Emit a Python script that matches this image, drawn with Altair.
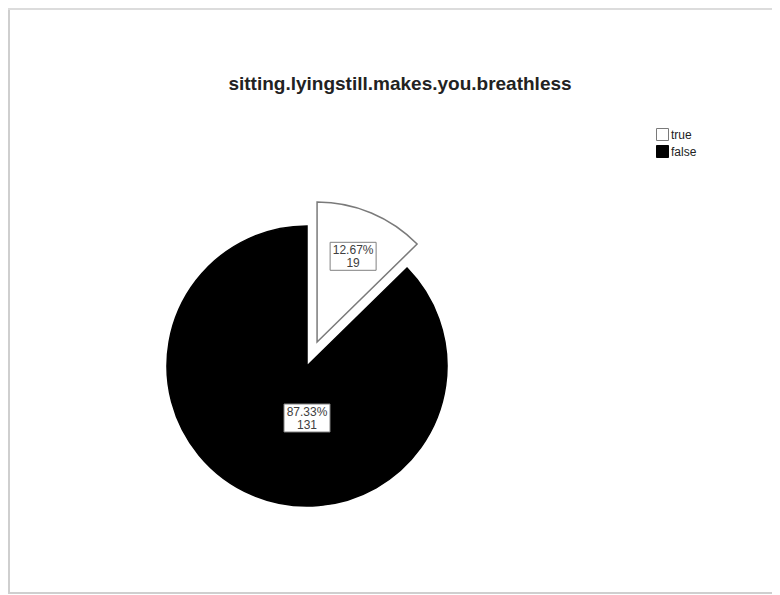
import altair as alt
import pandas as pd

# ---- data ----
CATEGORIES = ["true", "false"]
COUNTS = [19, 131]
COLORS = ["white", "black"]
TITLE = "sitting.lyingstill.makes.you.breathless"

# ---- layout / style constants ----
W, H = 764, 586
CX, CY = 299, 358          # pie centre (chart coords)
R = 140                    # pie radius
EXPLODE = 26               # explode distance of the 'true' slice
LABEL_R_TRUE = 93
LABEL_R_FALSE = 52
BOX_W, BOX_H = 46, 28
FONT = "Liberation Sans"

df = pd.DataFrame({"category": CATEGORIES, "count": COUNTS,
                   "order": list(range(len(CATEGORIES)))})

base = (
    alt.Chart(df)
    .transform_joinaggregate(total="sum(count)")
    .transform_window(cum="sum(count)", sort=[alt.SortField("order")], frame=[None, 0])
    .transform_calculate(
        t0="2*PI*(datum.cum - datum.count)/datum.total",
        t1="2*PI*datum.cum/datum.total",
    )
    .transform_calculate(
        mid="(datum.t0 + datum.t1)/2",
        ex=f"datum.category == 'true' ? {EXPLODE} : 0",
        lr=f"datum.category == 'true' ? {LABEL_R_TRUE} : {LABEL_R_FALSE}",
        lab="format(datum.count/datum.total, '.2%') + '\\n' + datum.count",
    )
    .transform_calculate(
        la="datum.category == 'true' ? datum.mid : PI",
        px=f"{CX} + datum.ex*sin(datum.mid)",
        py=f"{CY} - datum.ex*cos(datum.mid)",
    )
    .transform_calculate(
        lx="datum.px + datum.lr*sin(datum.la)",
        ly="datum.py - datum.lr*cos(datum.la)",
    )
    .transform_calculate(
        bx0=f"datum.lx - {BOX_W/2}", bx1=f"datum.lx + {BOX_W/2}",
        by0=f"datum.ly - {BOX_H/2}", by1=f"datum.ly + {BOX_H/2}",
    )
)

pie = base.mark_arc(radius=R, strokeWidth=1.5).encode(
    theta=alt.Theta("t0:Q", scale=None),
    theta2="t1:Q",
    x=alt.X("px:Q", scale=None, axis=None),
    y=alt.Y("py:Q", scale=None, axis=None),
    fill=alt.Fill(
        "category:N",
        scale=alt.Scale(domain=CATEGORIES, range=COLORS),
        legend=alt.Legend(
            title=None, orient="none", legendX=648, legendY=120,
            symbolType="square", symbolSize=144,
            symbolStrokeColor="#666666", symbolStrokeWidth=1,
            labelFont=FONT, labelFontSize=12, labelColor="#222222",
            labelOffset=2, rowPadding=0,
        ),
    ),
    stroke=alt.Stroke("category:N",
                      scale=alt.Scale(domain=CATEGORIES, range=["#7a7a7a", "black"]),
                      legend=None),
)

boxes = base.mark_rect(fill="white", stroke="#808080", strokeWidth=1).encode(
    x=alt.X("bx0:Q", scale=None, axis=None), x2="bx1:Q",
    y=alt.Y("by0:Q", scale=None, axis=None), y2="by1:Q",
)

labels = base.mark_text(font=FONT, fontSize=12, color="#404040", lineBreak="\n",
                        lineHeight=13, align="center", baseline="middle", dy=-6).encode(
    x=alt.X("lx:Q", scale=None, axis=None),
    y=alt.Y("ly:Q", scale=None, axis=None),
    text="lab:N",
)

title = alt.Chart(pd.DataFrame({"t": [TITLE]})).mark_text(
    font=FONT, fontSize=19, fontWeight="bold", color="#222222",
    align="center", baseline="middle",
).encode(x=alt.value(392), y=alt.value(76), text="t:N")

frame_df = pd.DataFrame({"k": [0]})
frame_left = alt.Chart(frame_df).mark_rule(color="#cfcfcf", strokeWidth=2).encode(
    x=alt.value(1), y=alt.value(0), y2=alt.value(H))
frame_top = alt.Chart(frame_df).mark_rule(color="#dcdcdc", strokeWidth=2).encode(
    y=alt.value(1), x=alt.value(0), x2=alt.value(W))
frame_bottom = alt.Chart(frame_df).mark_rule(color="#cfcfcf", strokeWidth=2).encode(
    y=alt.value(H - 1), x=alt.value(0), x2=alt.value(W))

chart = (
    alt.layer(frame_left, frame_top, frame_bottom, pie, boxes, labels, title)
    .properties(width=W, height=H, padding=0, autosize=alt.AutoSizeParams(type="none"))
    .configure_view(stroke=None)
)

chart.save("out.html", embed_options={"renderer": "svg", "actions": False})
